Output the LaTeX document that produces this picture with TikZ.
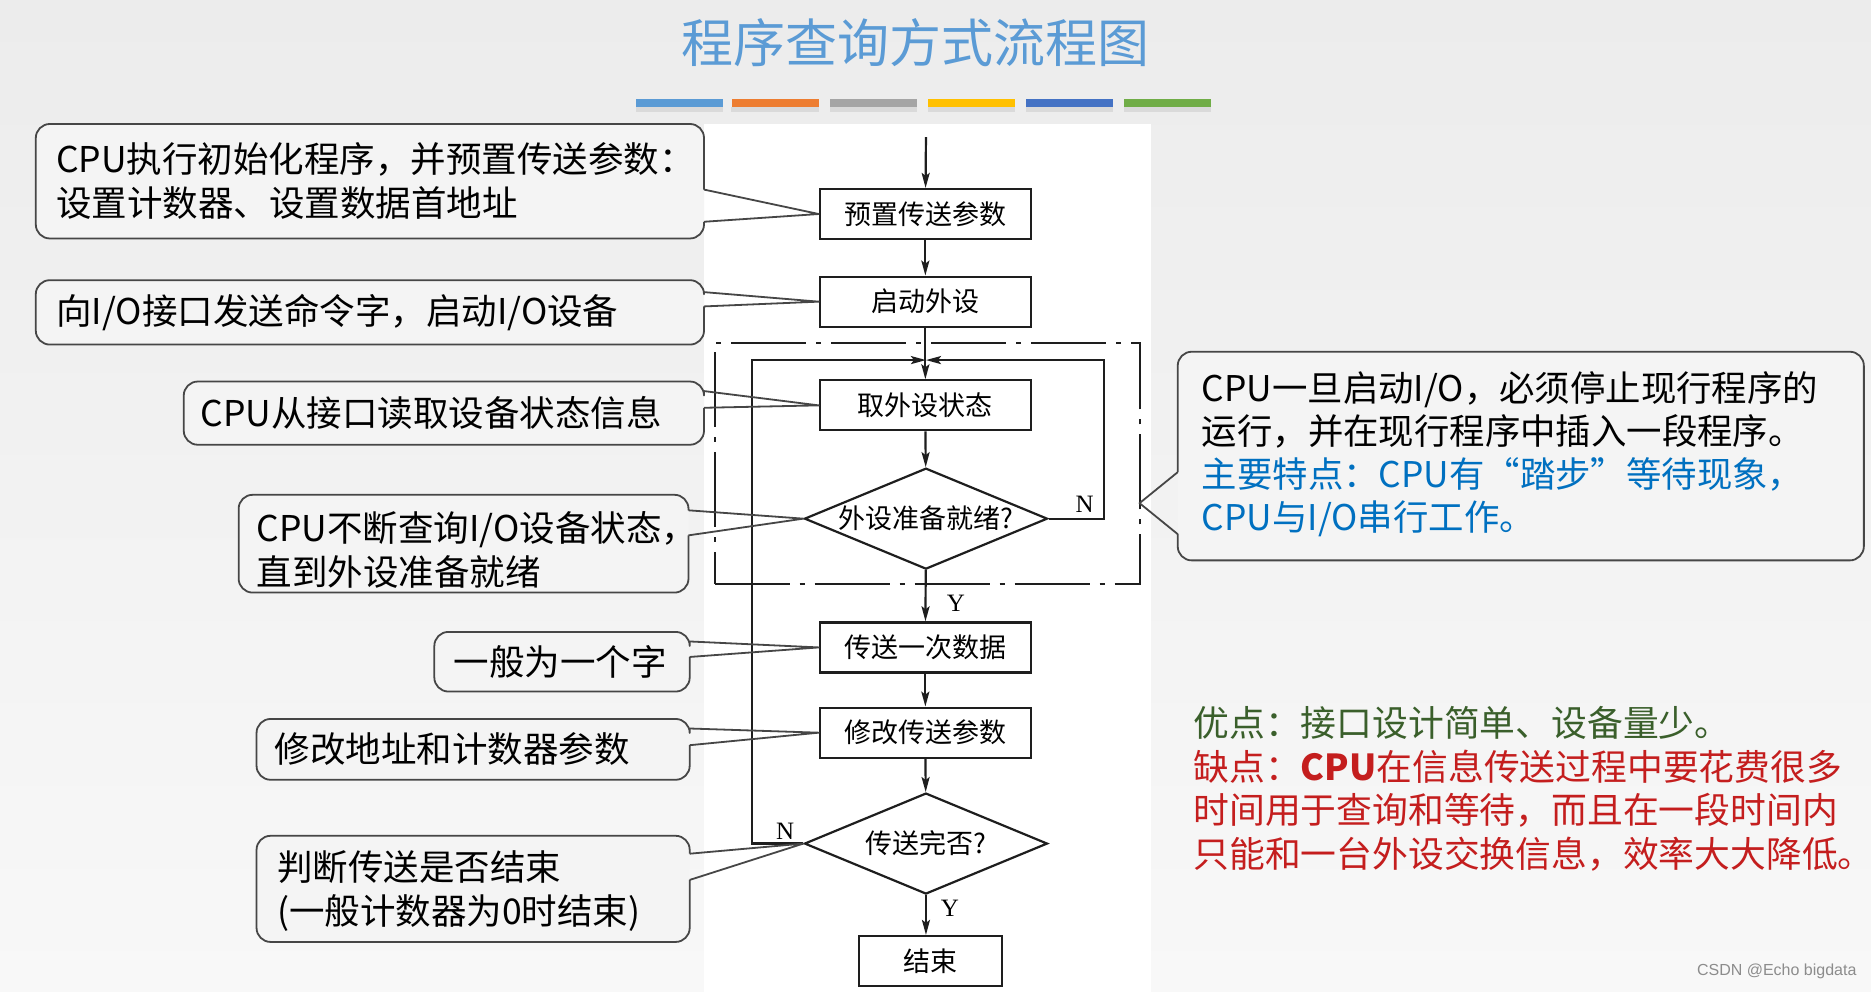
\documentclass[tikz,border=0pt]{standalone}
\usepackage{fontspec}
\newfontfamily\cjk{Noto Sans CJK SC}
\newfontfamily\serifl{Liberation Serif}
\newfontfamily\sansl{Liberation Sans}
\usetikzlibrary{shapes.geometric,arrows.meta,calc}
\definecolor{bgtop}{RGB}{236,236,236}
\definecolor{bgbot}{RGB}{248,248,248}
\definecolor{titleblue}{RGB}{91,155,213}
\definecolor{barA}{RGB}{91,155,213}
\definecolor{barB}{RGB}{237,125,49}
\definecolor{barC}{RGB}{165,165,165}
\definecolor{barD}{RGB}{255,192,0}
\definecolor{barE}{RGB}{68,114,196}
\definecolor{barF}{RGB}{112,173,71}
\definecolor{cgray}{RGB}{70,70,70}
\definecolor{cfill}{RGB}{244,244,244}
\definecolor{txtblue}{RGB}{0,112,192}
\definecolor{txtgreen}{RGB}{58,95,43}
\definecolor{txtred}{RGB}{196,30,30}
\definecolor{linegray}{RGB}{30,30,30}
\newcommand\mycallout[7]{%
  \fill[cfill, rounded corners=14pt] (#1,#2) rectangle (#3,#4);
  \draw[cline, rounded corners=14pt] (#3,#5) -- (#3,#2) -- (#1,#2) -- (#1,#4) -- (#3,#4) -- (#3,#6);
  \draw[cline] (#3,#5) -- (#7) -- (#3,#6);
}
\begin{document}
\begin{tikzpicture}[x=1.19324pt,y=-1.19231pt,
  fbox/.style={draw=linegray, line width=2.2pt, minimum width=211pt, minimum height=50pt, inner sep=0pt, font=\cjk\fontsize{27}{30}\selectfont},
  fdia/.style={draw=linegray, diamond, line width=2.2pt, minimum width=243pt, minimum height=101pt, inner sep=0pt},
  dtext/.style={font=\cjk\fontsize{27}{30}\selectfont, inner sep=0pt},
  flow/.style={draw=linegray, line width=2.2pt, -{Stealth[length=15pt,width=8pt,inset=3pt]}},
  cline/.style={line width=1.8pt, draw=cgray, line join=round},
  ctext/.style={font=\cjk\fontsize{35.5}{44}\selectfont, align=left, anchor=west, inner sep=0pt},
  yn/.style={font=\serifl\fontsize{25}{28}\selectfont, inner sep=0pt},
  bar/.style={minimum width=87pt, minimum height=8.5pt, inner sep=0pt}
]
\useasboundingbox (0,0) rectangle (1568,832);
\shade[top color=bgtop, bottom color=bgbot] (0,0) rectangle (1568,832);
\fill[white] (590,104) rectangle (965,832);

% title
\node[font=\cjk\fontsize{52}{60}\selectfont, text=titleblue, inner sep=0pt] (title) at (767,36) {程序查询方式流程图};
\foreach \c/\x in {barA/569.5,barB/649.5,barC/732,barD/814.5,barE/896.5,barF/978.5}{
  \fill[black, opacity=0.08] (\x-36.5,90) rectangle (\x+36.5,94);
  \node[bar, fill=\c] at (\x,86.5) {};
}

% flowchart nodes
\node[fbox] (A) at (775.5,179.5) {预置传送参数};
\node[fbox] (B) at (775.5,253) {启动外设};
\node[fbox] (C) at (775.5,340) {取外设状态};
\node[fdia] (d1) at (776,435) {};
\node[dtext] at (d1) {外设准备就绪?};
\node[fbox] (D) at (775.5,543) {传送一次数据};
\node[fbox] (E) at (775.5,614.5) {修改传送参数};
\node[fdia] (d2) at (776,707.5) {};
\node[dtext] at (d2) {传送完否?};
\node[fbox, minimum width=143pt] (F) at (780,806) {结束};
\node[draw=linegray, line width=2pt, dash pattern=on 75pt off 10pt on 5pt off 10pt, minimum width=425pt, minimum height=241pt, inner sep=0pt] (loop) at (777,389) {};

\coordinate (start) at (776,115);
\coordinate (merge) at (776,302);
\draw[flow] (start) -- (A);
\draw[flow] (A) -- (B);
\draw[flow] (B) -- (C);
\draw[flow] (C) -- (d1);
\draw[flow] (d1) -- (D);
\draw[flow] (D) -- (E);
\draw[flow] (E) -- (d2);
\draw[flow] (d2.south) -- (d2.south |- F.north);
\draw[flow] (d1.east) -- (925,435) -- (925,302) -- (merge);
\draw[flow] (d2.west) -- (630,707.5) -- (630,302) -- (merge);
\node[yn] (n1) at (909,423) {N};
\node[yn] (y1) at (801,506) {Y};
\node[yn] (n2) at (658,697) {N};
\node[yn] (y2) at (796,762) {Y};

% callouts
\mycallout{30}{104}{590}{200}{159}{186}{A.west}
\node[ctext] (c1) at (47,151.5) {CPU执行初始化程序，并预置传送参数：\\设置计数器、设置数据首地址};
\mycallout{30}{235}{590}{289}{245}{257}{B.west}
\node[ctext] (c2) at (47,262) {向I/O接口发送命令字，启动I/O设备};
\mycallout{154}{320}{590}{373}{328}{342}{C.west}
\node[ctext] (c3) at (168,346) {CPU从接口读取设备状态信息};
\mycallout{200}{415}{577}{497}{428}{449}{d1.west}
\node[ctext] (c4) at (215,461) {CPU不断查询I/O设备状态，\\直到外设准备就绪};
\mycallout{364}{530}{578}{580}{538}{551}{D.west}
\node[ctext] (c5) at (380,555) {一般为一个字};
\mycallout{215}{603}{578}{654}{611}{625}{E.west}
\node[ctext] (c6) at (230,628) {修改地址和计数器参数};
\mycallout{215}{701}{578}{790}{716}{738}{d2.west}
\node[ctext] (c7) at (232,747) {判断传送是否结束\\(一般计数器为0时结束)};

% right callout
\coordinate (t8) at (955,422);
\fill[cfill, rounded corners=14pt] (987,295) rectangle (1562,470);
\draw[cline, rounded corners=14pt] (987,396) -- (987,295) -- (1562,295) -- (1562,470) -- (987,470) -- (987,448);
\draw[cline] (987,396) -- (t8) -- (987,448);
\node[ctext, font=\cjk\fontsize{35.4}{43}\selectfont] (c8) at (1007,381) {CPU一旦启动I/O，必须停止现行程序的\\运行，并在现行程序中插入一段程序。\\{\color{txtblue}主要特点：CPU有“踏步”等待现象，}\\{\color{txtblue}CPU与I/O串行工作。}};

% pros and cons
\node[ctext, font=\cjk\fontsize{35.8}{43.5}\selectfont] (pc) at (1000,661.5) {{\color{txtgreen}优点：接口设计简单、设备量少。}\\{\color{txtred}缺点：\textbf{CPU}在信息传送过程中要花费很多}\\{\color{txtred}时间用于查询和等待，而且在一段时间内}\\{\color{txtred}只能和一台外设交换信息，效率大大降低。}};

\node[font=\sansl\fontsize{16}{18}\selectfont, text=black!45, anchor=east, inner sep=0pt] (wm) at (1556,815) {CSDN @Echo bigdata};
\end{tikzpicture}
\end{document}
